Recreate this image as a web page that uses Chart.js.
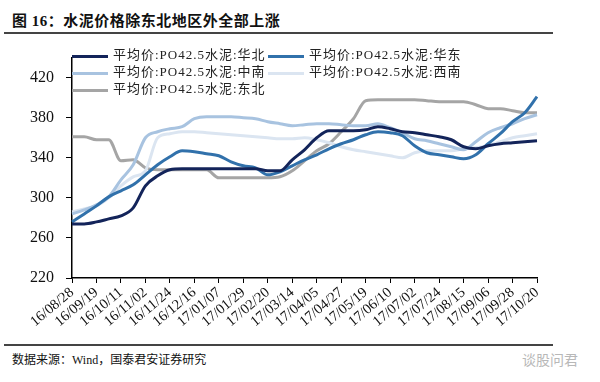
<!DOCTYPE html>
<html>
<head>
<meta charset="utf-8">
<script src="https://cdn.jsdelivr.net/npm/chart.js@4/dist/chart.umd.min.js"></script>
<style>
  body { margin: 0; background: #fff; width: 600px; height: 382px; position: relative; overflow: hidden;
         font-family: "Liberation Serif", "Noto Sans CJK SC", serif; }
  #title { position: absolute; left: 12px; top: 9px; font-size: 15px; font-weight: bold; color: #111; letter-spacing: 0.5px; }
  .rule { position: absolute; left: 4px; width: 549px; height: 2px; background: #444; }
  #chart { position: absolute; left: 0; top: 36px; }
  #legend { position: absolute; left: 72px; top: 44px; font-size: 13px; color: #222; background: #fff; }
  .item { position: absolute; white-space: nowrap; letter-spacing: 1px; }
  .item span.sw { display: inline-block; width: 36px; height: 3px; vertical-align: middle; margin-right: 5px; }
  #source { position: absolute; left: 12px; top: 350px; font-size: 12px; color: #111; }
  #mark { position: absolute; left: 522px; top: 349px; font-size: 14px; color: #b8b8b8; font-family: "Noto Sans CJK SC", sans-serif; }
</style>
</head>
<body>
<div id="title">图 16：水泥价格除东北地区外全部上涨</div>
<div class="rule" style="top:32px"></div>
<canvas id="chart" width="560" height="306"></canvas>
<div id="legend"></div>
<div class="rule" style="top:344px"></div>
<div id="source">数据来源：Wind，国泰君安证券研究</div>
<div id="mark">谈股问君</div>
<script>
// 日期 (每 11 天一个点)
const dates = ["16/08/28","16/09/08","16/09/19","16/09/30","16/10/11","16/10/22","16/11/02","16/11/13",
  "16/11/24","16/12/05","16/12/16","16/12/27","17/01/07","17/01/18","17/01/29","17/02/09","17/02/20",
  "17/03/03","17/03/14","17/03/25","17/04/05","17/04/16","17/04/27","17/05/08","17/05/19","17/05/30",
  "17/06/10","17/06/21","17/07/02","17/07/13","17/07/24","17/08/04","17/08/15","17/08/26","17/09/06",
  "17/09/17","17/09/28","17/10/09","17/10/20"];

const yTicks = [220, 260, 300, 340, 380, 420];

// 平均价:PO42.5水泥
const huabei = [274,274,276,279,282,290,312,322,328,329,329,329,329,329,329,329,327,327,338,348,360,367,
  367,367,368,371,369,366,365,363,361,358,351,349,352,354,355,356,357];
const huadong = [276,284,292,301,307,313,323,333,341,347,346,344,342,336,332,330,323,326,332,338,343,349,
  354,358,363,366,365,362,352,345,343,341,339,343,354,364,376,385,401];
const zhongnan = [284,288,293,301,318,333,360,366,369,371,379,381,381,381,380,379,376,374,372,373,374,374,
  373,372,372,374,370,365,359,357,354,351,348,356,365,370,374,379,383];
const xinan = [286,289,292,300,312,321,327,360,364,366,366,365,364,363,362,361,360,359,359,360,358,355,
  351,348,346,344,342,340,345,347,347,347,349,350,352,356,360,362,364];
const dongbei = [361,361,358,358,337,338,330,328,328,328,328,328,320,320,320,320,320,321,327,337,347,354,
  366,379,397,398,398,398,398,397,396,396,396,393,389,389,387,385,385];

const names = ["平均价:PO42.5水泥:华北","平均价:PO42.5水泥:华东","平均价:PO42.5水泥:中南",
  "平均价:PO42.5水泥:西南","平均价:PO42.5水泥:东北"];
const colors = ["#13245a","#3171ab","#a8c3e0","#dbe5f1","#a5a5a5"];
const series = [huabei, huadong, zhongnan, xinan, dongbei];

const chart = new Chart(document.getElementById("chart"), {
  type: "line",
  data: {
    labels: dates,
    datasets: series.map((s, i) => ({
      label: names[i],
      data: s,
      borderColor: colors[i],
      backgroundColor: colors[i],
      borderWidth: 3,
      pointRadius: 0,
      cubicInterpolationMode: "monotone",
      fill: false,
      order: i
    }))
  },
  options: {
    responsive: false,
    animation: false,
    layout: { padding: { top: 20, right: 23, left: 0, bottom: 0 } },
    plugins: { legend: { display: false }, tooltip: { enabled: false } },
    scales: {
      x: {
        offset: false,
        border: { color: "#000", width: 1.5 },
        grid: { drawOnChartArea: false, drawTicks: true, tickLength: 5, color: "#000" },
        afterBuildTicks: (s) => { s.ticks = s.ticks.filter((t) => t.value % 2 === 0); },
        afterFit: (s) => { s.height = 64; },
        ticks: { autoSkip: false, minRotation: 40, maxRotation: 40, padding: 1,
                 color: "#111", font: { family: "'Liberation Serif', serif", size: 14.5 } }
      },
      y: {
        min: 220,
        max: 440,
        border: { color: "#000", width: 1.5 },
        grid: { drawOnChartArea: false, drawTicks: true, tickLength: 6, color: "#000" },
        afterBuildTicks: (s) => { s.ticks = yTicks.map((v) => ({ value: v })); },
        afterFit: (s) => { s.width = 72; },
        ticks: { color: "#111", font: { family: "'Liberation Serif', serif", size: 16 }, padding: 12 }
      }
    }
  }
});

// 图例
const legend = document.getElementById("legend");
const spots = [[0, 0], [196, 0], [0, 17], [196, 17], [0, 34]];
chart.data.datasets.forEach((d, i) => {
  const el = document.createElement("div");
  el.className = "item";
  el.style.left = spots[i][0] + "px";
  el.style.top = spots[i][1] + "px";
  el.innerHTML = '<span class="sw" style="background:' + d.borderColor + '"></span>' + d.label;
  legend.appendChild(el);
});
</script>
</body>
</html>
